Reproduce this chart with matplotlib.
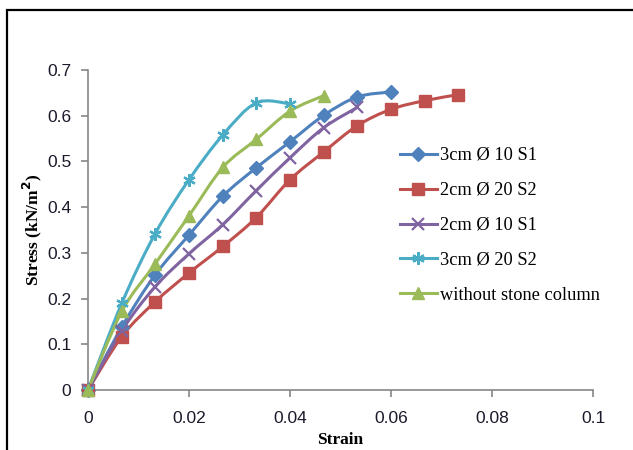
import numpy as np
import matplotlib
matplotlib.use("Agg")
import matplotlib.pyplot as plt
from matplotlib.path import Path
from matplotlib.patches import PathPatch, Rectangle
from matplotlib.lines import Line2D

# ---- data ----
strain_a = [0, 0.0067, 0.0133, 0.02, 0.0267, 0.0333, 0.04, 0.0467, 0.0533, 0.06]
stress_a = [0, 0.138, 0.252, 0.339, 0.424, 0.486, 0.543, 0.601, 0.641, 0.652]

strain_b = [0, 0.0067, 0.0133, 0.02, 0.0267, 0.0333, 0.04, 0.0467, 0.0533, 0.06, 0.0667, 0.0733]
stress_b = [0, 0.117, 0.193, 0.256, 0.314, 0.377, 0.460, 0.521, 0.578, 0.614, 0.633, 0.646]

strain_c = [0, 0.0067, 0.0133, 0.02, 0.0267, 0.0333, 0.04, 0.0467, 0.0533]
stress_c = [0, 0.130, 0.226, 0.298, 0.362, 0.436, 0.508, 0.574, 0.618]

strain_d = [0, 0.0067, 0.0133, 0.02, 0.0267, 0.0333, 0.04]
stress_d = [0, 0.190, 0.342, 0.460, 0.558, 0.628, 0.626]

strain_e = [0, 0.0067, 0.0133, 0.02, 0.0267, 0.0333, 0.04, 0.0467]
stress_e = [0, 0.172, 0.276, 0.381, 0.487, 0.548, 0.610, 0.644]

labels = ["3cm Ø 10 S1", "2cm Ø 20 S2", "2cm Ø 10 S1", "3cm Ø 20 S2",
          "without stone column"]

x_ticks = [0, 0.02, 0.04, 0.06, 0.08, 0.1]
x_tick_labels = ["0", "0.02", "0.04", "0.06", "0.08", "0.1"]
y_ticks = [0, 0.1, 0.2, 0.3, 0.4, 0.5, 0.6, 0.7]
y_tick_labels = ["0", "0.1", "0.2", "0.3", "0.4", "0.5", "0.6", "0.7"]

colors = ["#4F81BD", "#C0504D", "#8064A2", "#4BACC6", "#9BBB59"]
markers = ["D", "s", "x", (6, 2, 0), "^"]
msizes = [7, 8, 8, 9, 8.5]


def smooth_path(x, y):
    """Excel-like smoothed line: Bezier segments through every point."""
    pts = np.column_stack([x, y])
    verts = [pts[0]]
    codes = [Path.MOVETO]
    n = len(pts)
    for i in range(n - 1):
        p0 = pts[max(i - 1, 0)]
        p1 = pts[i]
        p2 = pts[i + 1]
        p3 = pts[min(i + 2, n - 1)]
        c1 = p1 + (p2 - p0) / 6.0
        c2 = p2 - (p3 - p1) / 6.0
        verts += [c1, c2, p2]
        codes += [Path.CURVE4] * 3
    return Path(verts, codes)


series = [(strain_a, stress_a), (strain_b, stress_b), (strain_c, stress_c),
          (strain_d, stress_d), (strain_e, stress_e)]

fig = plt.figure(figsize=(6.33, 4.5), dpi=100)
ax = fig.add_axes([88 / 633, 1 - 390 / 450, 505 / 633, 320 / 450])

handles = []
for (xs, ys), c, m, ms, lab in zip(series, colors, markers, msizes, labels):
    ax.add_patch(PathPatch(smooth_path(xs, ys), fill=False, ec=c, lw=2.2,
                           zorder=2, clip_on=False))
    mew = 1.6 if m in ("x", (6, 2, 0)) else 1.0
    ax.plot(xs, ys, ls="none", marker=m, ms=ms, color=c, mec=c, mew=mew,
            zorder=3, clip_on=False)
    handles.append(Line2D([], [], color=c, lw=2.2, marker=m, ms=ms, mec=c,
                          mew=mew))

ax.set_xlim(0, 0.1)
ax.set_ylim(0, 0.7)
ax.set_xticks(x_ticks)
ax.set_xticklabels(x_tick_labels)
ax.set_yticks(y_ticks)
ax.set_yticklabels(y_tick_labels)

for side in ["top", "right"]:
    ax.spines[side].set_visible(False)
for side in ["left", "bottom"]:
    ax.spines[side].set_color("#868686")
    ax.spines[side].set_linewidth(1.2)
ax.tick_params(axis="both", direction="out", length=5, width=1.2,
               color="#868686", labelsize=12.5, labelcolor="#1a1a2a")
ax.tick_params(axis="x", pad=10)
ax.tick_params(axis="y", pad=7)
for t in ax.get_xticklabels() + ax.get_yticklabels():
    t.set_fontfamily("Liberation Sans")

fig.text(340 / 633, 1 - 440 / 450, "Strain", ha="center", va="center",
         fontsize=12.5, fontweight="bold", family="Liberation Serif")
fig.text(32 / 633, 1 - 230 / 450, "Stress (kN/m$^\\mathbf{2}$)", ha="center",
         va="center", rotation=90, fontsize=12.5, fontweight="bold",
         family="Liberation Serif")

leg = ax.legend(handles, labels, loc="upper left",
                bbox_to_anchor=(400 / 633, 1 - 147 / 450),
                bbox_transform=fig.transFigure, frameon=False,
                prop={"family": "Liberation Serif", "size": 13.2},
                handlelength=2.0, handletextpad=0.2, labelspacing=0.98,
                borderpad=0, borderaxespad=0)

# outer chart frame (cropped at the right and bottom in the reference)
fig.add_artist(Rectangle((6.5 / 633, -0.2), 1.5, 1.2 - 10 / 450, fill=False,
                         ec="black", lw=1.6, transform=fig.transFigure))

fig.savefig("out.png", dpi=100)
